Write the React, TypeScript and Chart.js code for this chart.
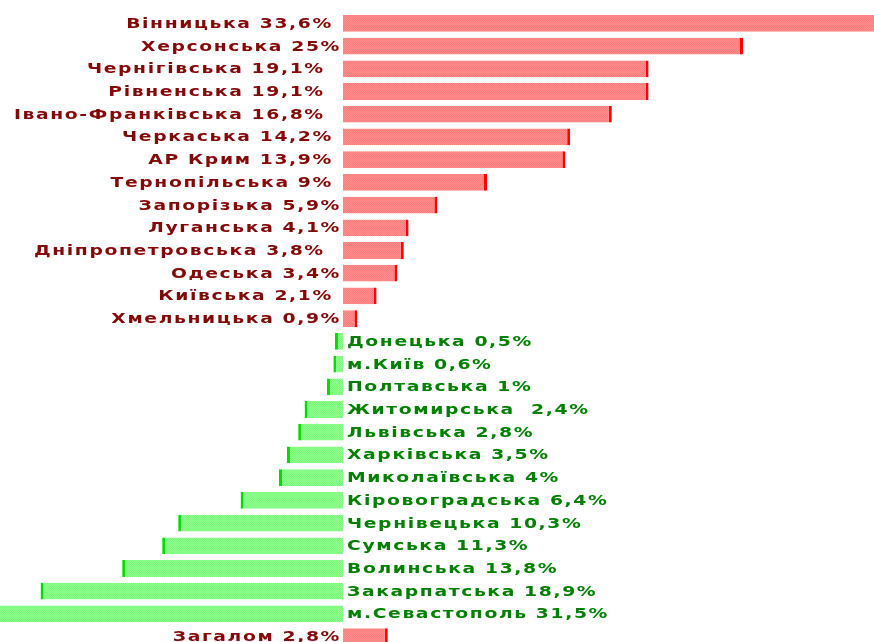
import React, { useEffect, useRef } from "react";
import { Chart, registerables } from "chart.js";

Chart.register(...registerables);

const regions = [
  "Вінницька", "Херсонська", "Чернігівська", "Рівненська", "Івано-Франківська",
  "Черкаська", "АР Крим", "Тернопільська", "Запорізька", "Луганська",
  "Дніпропетровська", "Одеська", "Київська", "Хмельницька", "Донецька",
  "м.Київ", "Полтавська", "Житомирська", "Львівська", "Харківська",
  "Миколаївська", "Кіровоградська", "Чернівецька", "Сумська", "Волинська",
  "Закарпатська", "м.Севастополь", "Загалом",
];

const barLabels = [
  "Вінницька 33,6% ", "Херсонська 25%", "Чернігівська 19,1%  ", "Рівненська 19,1%  ",
  "Івано-Франківська 16,8%  ", "Черкаська 14,2% ", "АР Крим 13,9% ", "Тернопільська 9% ",
  "Запорізька 5,9%", "Луганська 4,1%", "Дніпропетровська 3,8%  ", "Одеська 3,4%",
  "Київська 2,1% ", "Хмельницька 0,9%", "Донецька 0,5%", "м.Київ 0,6%",
  "Полтавська 1%", "Житомирська  2,4%", "Львівська 2,8%", "Харківська 3,5%",
  "Миколаївська 4%", "Кіровоградська 6,4%", "Чернівецька 10,3%", "Сумська 11,3%",
  "Волинська 13,8%", "Закарпатська 18,9%", "м.Севастополь 31,5%", "Загалом 2,8%",
];

const values = [
  33.6, 25, 19.1, 19.1, 16.8, 14.2, 13.9, 9, 5.9, 4.1, 3.8, 3.4, 2.1, 0.9,
  -0.5, -0.6, -1, -2.4, -2.8, -3.5, -4, -6.4, -10.3, -11.3, -13.8, -18.9, -31.5,
  2.8,
];

const X_MIN = -343 / 16;
const X_MAX = 531 / 16;

function makePattern(c1: string, c2: string): CanvasPattern | string {
  const pc = document.createElement("canvas");
  pc.width = 2;
  pc.height = 2;
  const g = pc.getContext("2d");
  if (!g) return c1;
  g.fillStyle = c1;
  g.fillRect(0, 0, 2, 2);
  g.fillStyle = c2;
  g.fillRect(0, 0, 1, 1);
  g.fillRect(1, 1, 1, 1);
  const p = g.createPattern(pc, "repeat");
  return p || c1;
}

const labelPlugin = {
  id: "barLabels",
  afterDatasetsDraw(chart: any) {
    const ctx = chart.ctx as CanvasRenderingContext2D;
    const xs = chart.scales.x;
    const zero = xs.getPixelForValue(0);
    const meta = chart.getDatasetMeta(0);
    ctx.save();
    ctx.font = "bold 14px 'DejaVu Sans'";
    (ctx as any).letterSpacing = "1.2px";
    ctx.textBaseline = "alphabetic";
    const sx = 1.34;
    meta.data.forEach((el: any, i: number) => {
      const v = values[i];
      const y = el.y + 4.5;
      ctx.save();
      if (v >= 0) {
        ctx.fillStyle = "#850808";
        ctx.textAlign = "right";
        ctx.translate(zero - 2, y);
      } else {
        ctx.fillStyle = "#008000";
        ctx.textAlign = "left";
        ctx.translate(zero + 4, y);
      }
      ctx.scale(sx, 1);
      ctx.fillText(barLabels[i], 0, 0);
      ctx.restore();
    });
    ctx.restore();
  },
};

export default function App() {
  const ref = useRef<HTMLCanvasElement | null>(null);

  useEffect(() => {
    const canvas = ref.current;
    if (!canvas) return;
    const redFill = makePattern("#ff9090", "#ff7a7a");
    const greenFill = makePattern("#90ff90", "#7afa7a");
    const chart = new Chart(canvas, {
      type: "bar",
      data: {
        labels: regions,
        datasets: [
          {
            data: values,
            backgroundColor: (c: any) => (values[c.dataIndex] >= 0 ? redFill : greenFill),
            borderColor: (c: any) => (values[c.dataIndex] >= 0 ? "#ff0000" : "#00dd00"),
            borderWidth: (c: any) =>
              values[c.dataIndex] >= 0
                ? { top: 0, bottom: 0, left: 0, right: 3 }
                : { top: 0, bottom: 0, left: 3, right: 0 },
            borderSkipped: false,
            barPercentage: 0.74,
            categoryPercentage: 1,
          } as any,
        ],
      },
      options: {
        indexAxis: "y",
        responsive: false,
        animation: false,
        devicePixelRatio: 1,
        layout: { padding: { top: 12, bottom: 0, left: 0, right: 0 } },
        plugins: {
          legend: { display: false },
          tooltip: { enabled: false },
          title: { display: false },
        },
        scales: {
          x: { type: "linear", min: X_MIN, max: X_MAX, display: false },
          y: { type: "category", display: false },
        },
      } as any,
      plugins: [labelPlugin],
    });
    return () => chart.destroy();
  }, []);

  return (
    <div
      style={{
        position: "fixed",
        left: 0,
        top: 0,
        width: 874,
        height: 642,
        overflow: "hidden",
        background: "#ffffff",
      }}
    >
      <canvas ref={ref} width={874} height={648} style={{ display: "block", width: 874, height: 648 }} />
    </div>
  );
}
